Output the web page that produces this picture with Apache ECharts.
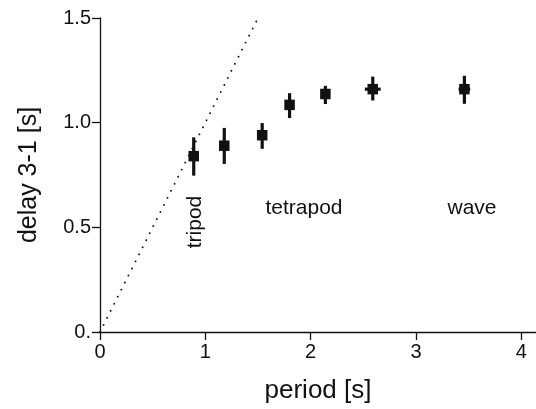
<!DOCTYPE html>
<html>
<head>
<meta charset="utf-8">
<script src="https://cdn.jsdelivr.net/npm/echarts@6/dist/echarts.min.js"></script>
<style>
html,body{margin:0;padding:0;background:#fff;}
#chart{width:536px;height:409px;}
</style>
</head>
<body>
<div id="chart"></div>
<script>
// Data
const period = [0.89, 1.18, 1.54, 1.80, 2.14, 2.59, 3.46];
const delay = [0.84, 0.89, 0.94, 1.085, 1.137, 1.16, 1.16];
const delayHigh = [0.93, 0.975, 0.998, 1.141, 1.176, 1.220, 1.224];
const delayLow = [0.747, 0.803, 0.875, 1.022, 1.089, 1.106, 1.090];
const periodErr = [0.04, 0.03, 0.03, 0.03, 0.03, 0.075, 0.055];
const identityLine = [[0, 0], [1.5, 1.5]];
const xTicks = [0, 1, 2, 3, 4];
const yTicks = [0, 0.5, 1, 1.5];
const yTickLabels = ['0.', '0.5', '1.0', '1.5'];
const annotations = ['tripod', 'tetrapod', 'wave'];

const font = "'Liberation Sans', Arial, Helvetica, sans-serif";
const ink = '#111';

const pts = period.map((p, i) => [p, delay[i], delayLow[i], delayHigh[i], periodErr[i]]);

const chart = echarts.init(document.getElementById('chart'));
chart.setOption({
  animation: false,
  backgroundColor: '#fff',
  grid: {left: 100, right: 0, top: 18, bottom: 76},
  xAxis: {
    type: 'value', min: 0, max: 4.14, interval: 1,
    name: 'period [s]', nameLocation: 'middle', nameGap: 46,
    nameTextStyle: {fontFamily: font, fontSize: 26, color: ink},
    axisLine: {onZero: false, lineStyle: {color: ink, width: 1.3}},
    axisTick: {show: true, length: 8, inside: false, customValues: xTicks,
      lineStyle: {color: ink, width: 1.3}},
    axisLabel: {fontFamily: font, fontSize: 20, color: ink, margin: 10,
      customValues: xTicks, formatter: v => String(v)},
    splitLine: {show: false}
  },
  yAxis: {
    type: 'value', min: 0, max: 1.5, interval: 0.5,
    name: 'delay 3-1 [s]', nameLocation: 'middle', nameGap: 58,
    nameTextStyle: {fontFamily: font, fontSize: 25, color: ink},
    axisLine: {show: true, onZero: false, lineStyle: {color: ink, width: 1.3}},
    axisTick: {show: true, length: 8, inside: false, customValues: yTicks,
      lineStyle: {color: ink, width: 1.3}},
    axisLabel: {fontFamily: font, fontSize: 20, color: ink, margin: 9,
      customValues: yTicks,
      formatter: v => {
        const i = yTicks.findIndex(t => Math.abs(t - v) < 1e-9);
        return i >= 0 ? yTickLabels[i] : '';
      }},
    splitLine: {show: false}
  },
  series: [
    {
      type: 'line',
      data: identityLine,
      symbol: 'none',
      lineStyle: {color: ink, width: 1.8, type: [0.1, 7.8], cap: 'round'},
      z: 1
    },
    {
      type: 'custom',
      data: pts,
      z: 3,
      renderItem: function (params, api) {
        const c = api.coord([api.value(0), api.value(1)]);
        const lo = api.coord([api.value(0), api.value(2)]);
        const hi = api.coord([api.value(0), api.value(3)]);
        const xl = api.coord([api.value(0) - api.value(4), api.value(1)]);
        const xr = api.coord([api.value(0) + api.value(4), api.value(1)]);
        const s = 10.5;
        return {
          type: 'group',
          children: [
            {type: 'line', shape: {x1: c[0], y1: lo[1], x2: c[0], y2: hi[1]},
              style: {stroke: ink, lineWidth: 3.2}},
            {type: 'line', shape: {x1: xl[0], y1: c[1], x2: xr[0], y2: c[1]},
              style: {stroke: ink, lineWidth: 3.2}},
            {type: 'rect', shape: {x: c[0] - s / 2, y: c[1] - s / 2, width: s, height: s},
              style: {fill: ink}}
          ]
        };
      }
    }
  ],
  graphic: [
    {type: 'text', x: 195, y: 222, rotation: Math.PI / 2,
      style: {text: annotations[0], font: '21px ' + font, fill: ink, align: 'center', verticalAlign: 'middle'}},
    {type: 'text', x: 304, y: 208,
      style: {text: annotations[1], font: '21px ' + font, fill: ink, align: 'center', verticalAlign: 'middle'}},
    {type: 'text', x: 472, y: 208,
      style: {text: annotations[2], font: '21px ' + font, fill: ink, align: 'center', verticalAlign: 'middle'}}
  ]
});
</script>
</body>
</html>
